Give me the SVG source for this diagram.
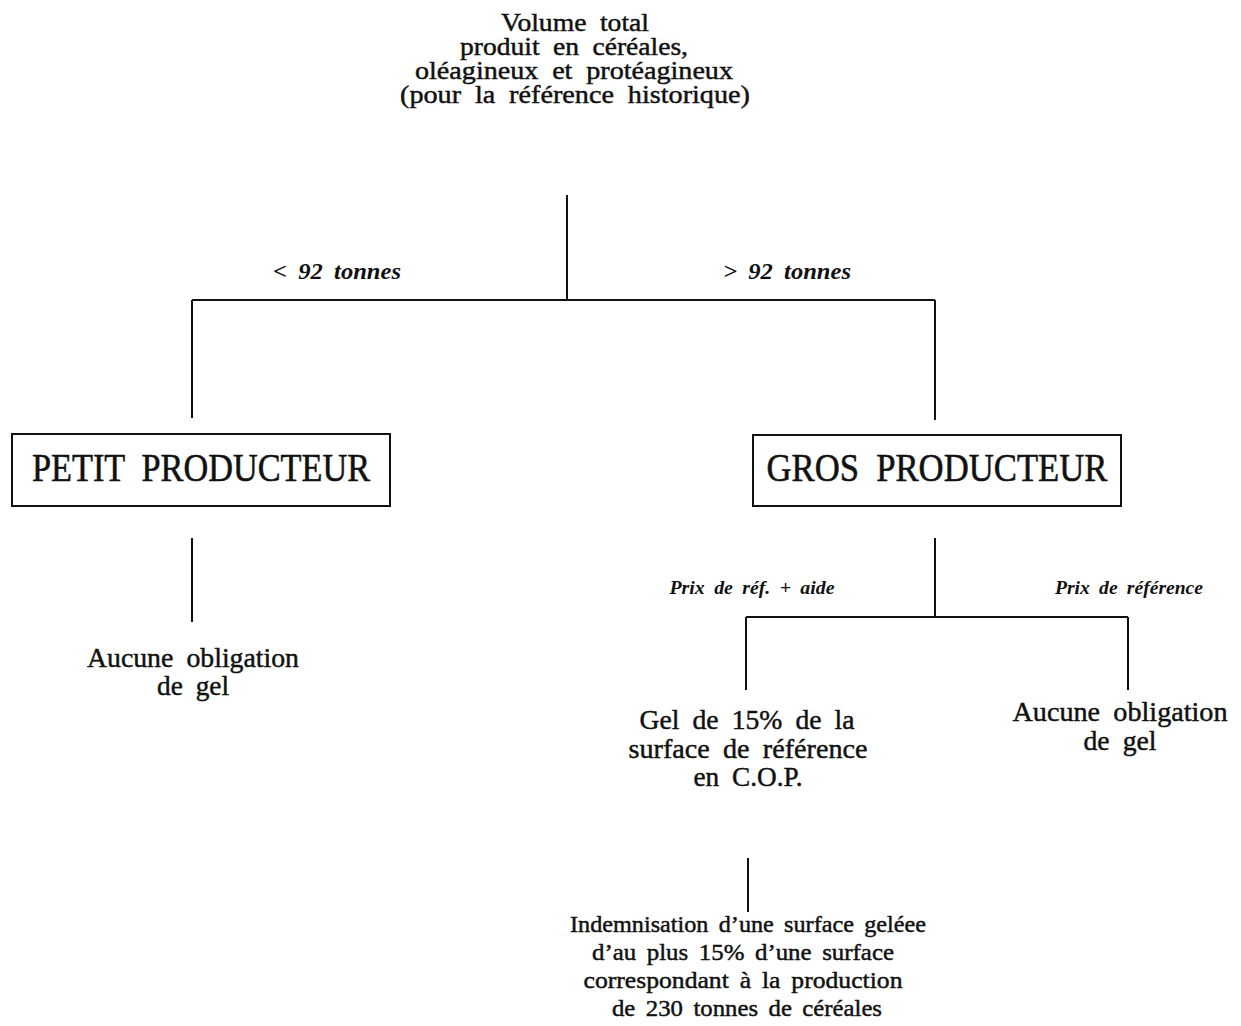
<svg xmlns="http://www.w3.org/2000/svg" width="1241" height="1026" viewBox="0 0 1241 1026">
<style>
.t{font-family:"Liberation Serif","Times New Roman",serif;fill:#111;stroke:#111;stroke-width:0.45;text-anchor:middle}
.title{font-size:25px;word-spacing:6px}
.box{font-size:41px;stroke-width:0.6;word-spacing:10px}
.leaf{font-size:27px;word-spacing:6px}
.small{font-size:23px;word-spacing:4px}
.lab{font-size:24px;font-style:italic;font-weight:bold;stroke-width:0;word-spacing:5px}
.slab{font-size:18px;font-style:italic;font-weight:bold;stroke-width:0;word-spacing:4px}
.ln{stroke:#111;stroke-width:2;fill:none}
.rect{fill:#fff;stroke:#111;stroke-width:2}
</style>
<rect width="1241" height="1026" fill="#fff"/>
<g id="connectors">
<path class="ln" d="M567 195V300M192 300H935M192 300V418M935 300V420"/>
<path class="ln" d="M192 538V622"/>
<path class="ln" d="M935 538V617M746 617H1128M746 617V690M1128 617V690"/>
<path class="ln" d="M748 858V912"/>
<text class="t lab" x="337" y="279" textLength="128" lengthAdjust="spacingAndGlyphs">&lt; 92 tonnes</text>
<text class="t lab" x="787" y="279" textLength="128" lengthAdjust="spacingAndGlyphs">&gt; 92 tonnes</text>
<text class="t slab" x="752" y="594" textLength="165" lengthAdjust="spacingAndGlyphs">Prix de réf. + aide</text>
<text class="t slab" x="1129" y="594" textLength="148" lengthAdjust="spacingAndGlyphs">Prix de référence</text>
</g>
<g id="root">
<text class="t title" x="575" y="31" textLength="148" lengthAdjust="spacingAndGlyphs">Volume total</text>
<text class="t title" x="574" y="55" textLength="228" lengthAdjust="spacingAndGlyphs">produit en céréales,</text>
<text class="t title" x="574" y="79" textLength="318" lengthAdjust="spacingAndGlyphs">oléagineux et protéagineux</text>
<text class="t title" x="575" y="103" textLength="350" lengthAdjust="spacingAndGlyphs">(pour la référence historique)</text>
</g>
<g id="petit">
<rect class="rect" x="12" y="434" width="378" height="72"/>
<text class="t box" x="201" y="481" textLength="338" lengthAdjust="spacingAndGlyphs">PETIT PRODUCTEUR</text>
</g>
<g id="gros">
<rect class="rect" x="753" y="435" width="368" height="71"/>
<text class="t box" x="937" y="481" textLength="341" lengthAdjust="spacingAndGlyphs">GROS PRODUCTEUR</text>
</g>
<g id="petit-gel">
<text class="t leaf" x="193" y="667" textLength="212" lengthAdjust="spacingAndGlyphs">Aucune obligation</text>
<text class="t leaf" x="193" y="695" textLength="72" lengthAdjust="spacingAndGlyphs">de gel</text>
</g>
<g id="gel15">
<text class="t leaf" x="747" y="729" textLength="215" lengthAdjust="spacingAndGlyphs">Gel de 15% de la</text>
<text class="t leaf" x="748" y="758" textLength="239" lengthAdjust="spacingAndGlyphs">surface de référence</text>
<text class="t leaf" x="748" y="786" textLength="109" lengthAdjust="spacingAndGlyphs">en C.O.P.</text>
</g>
<g id="gros-gel">
<text class="t leaf" x="1120" y="721" textLength="215" lengthAdjust="spacingAndGlyphs">Aucune obligation</text>
<text class="t leaf" x="1120" y="750" textLength="73" lengthAdjust="spacingAndGlyphs">de gel</text>
</g>
<g id="indemn">
<text class="t small" x="748" y="932" textLength="356" lengthAdjust="spacingAndGlyphs">Indemnisation d’une surface geléee</text>
<text class="t small" x="743" y="960" textLength="302" lengthAdjust="spacingAndGlyphs">d’au plus 15% d’une surface</text>
<text class="t small" x="743" y="988" textLength="319" lengthAdjust="spacingAndGlyphs">correspondant à la production</text>
<text class="t small" x="747" y="1016" textLength="270" lengthAdjust="spacingAndGlyphs">de 230 tonnes de céréales</text>
</g>
</svg>
